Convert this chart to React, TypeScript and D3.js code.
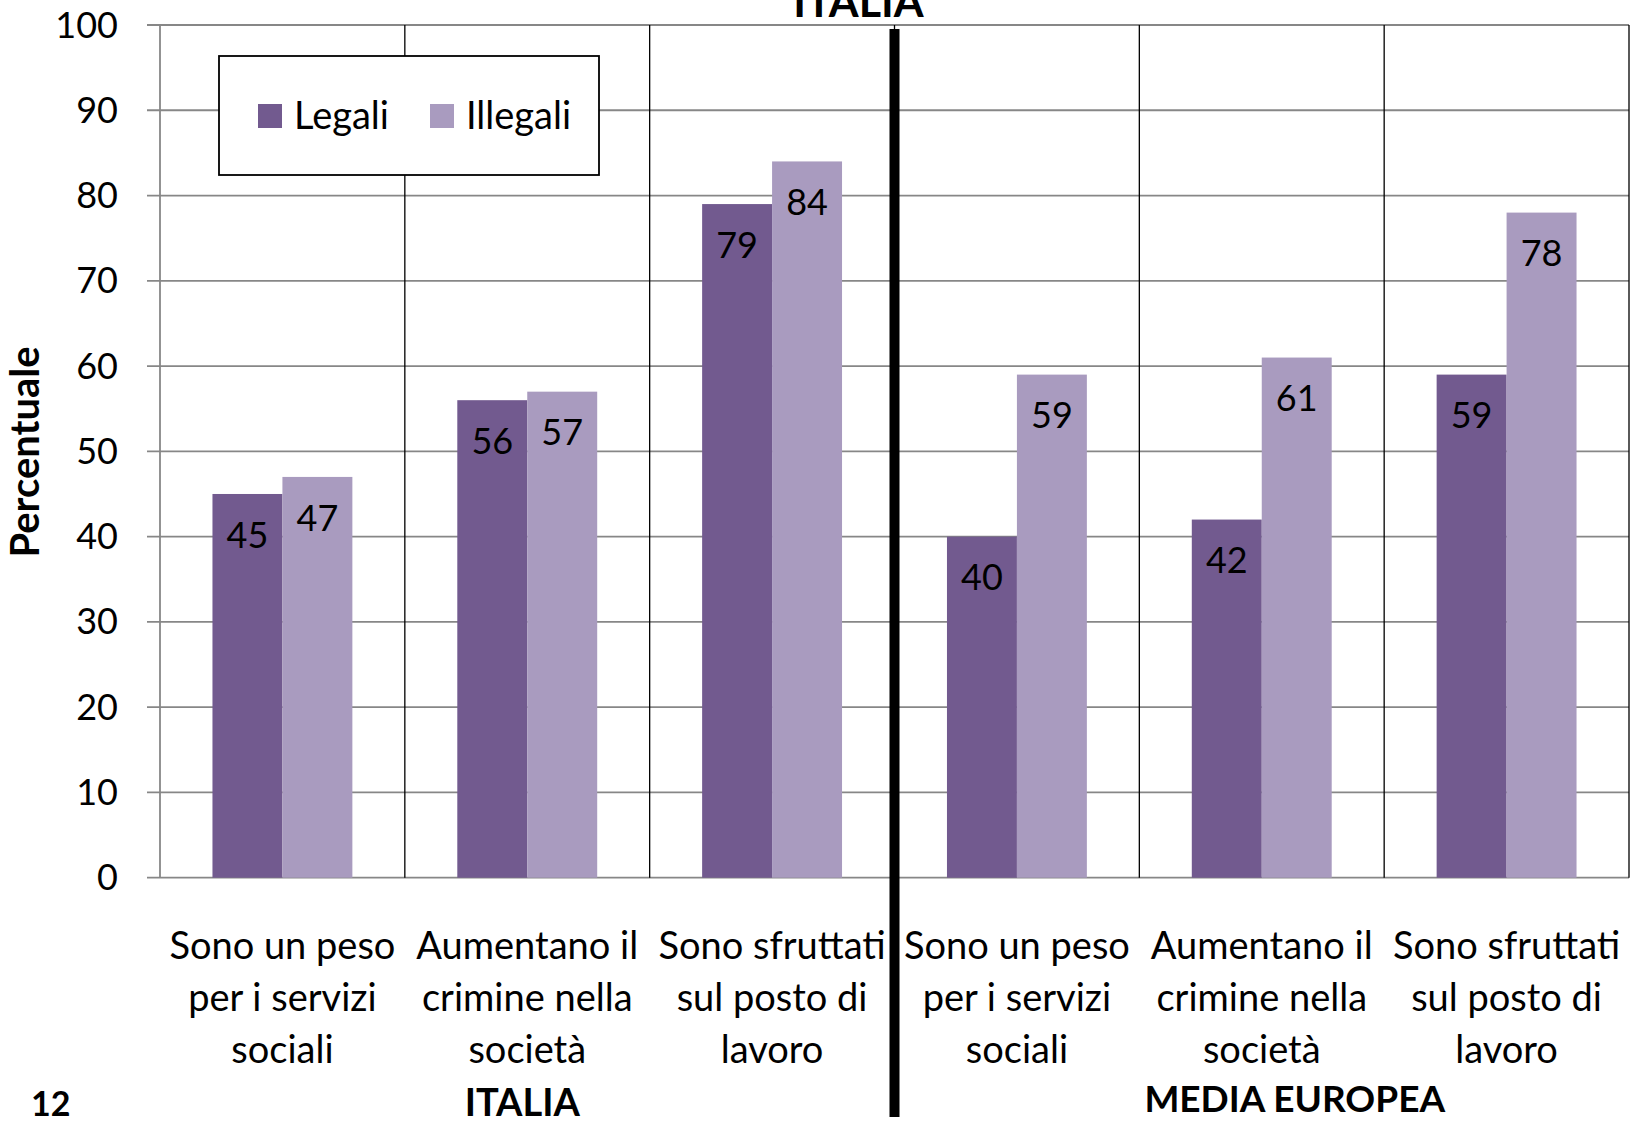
import React from 'react';
import * as d3 from 'd3';

const GROUPS = ['ITALIA', 'MEDIA EUROPEA'];
const CATEGORIES = [
  ['Sono un peso', 'per i servizi', 'sociali'],
  ['Aumentano il', 'crimine nella', 'società'],
  ['Sono sfruttati', 'sul posto di', 'lavoro'],
  ['Sono un peso', 'per i servizi', 'sociali'],
  ['Aumentano il', 'crimine nella', 'società'],
  ['Sono sfruttati', 'sul posto di', 'lavoro'],
];
const SERIES = ['Legali', 'Illegali'];
const LEGALI = [45, 56, 79, 40, 42, 59];
const ILLEGALI = [47, 57, 84, 59, 61, 78];
const Y_TICKS = [0, 10, 20, 30, 40, 50, 60, 70, 80, 90, 100];

const COLORS = ['#725A8F', '#A99BBF'];
const FONT = 'Lato, "Open Sans", sans-serif';

const W = 1635;
const H = 1122;
const left = 160;
const right = 1629;
const top = 25;
const bottom = 877.7;

export default function App() {
  const x0 = d3.scaleBand<number>()
    .domain(d3.range(CATEGORIES.length))
    .range([left, right]);
  const x1 = d3.scaleBand<string>()
    .domain(SERIES)
    .range([0, x0.bandwidth()])
    .paddingOuter(0.75);
  const y = d3.scaleLinear().domain([0, 100]).range([bottom, top]);

  const values = [LEGALI, ILLEGALI];
  const mid = x0(3)!;
  const groupCenter = (g: number) => {
    const a = x0(g * 3)!;
    const b = x0(g * 3 + 2)! + x0.bandwidth();
    return (a + b) / 2;
  };

  return (
    <svg width={W} height={H} style={{ position: 'absolute', left: 0, top: 0, background: '#fff' }} fontFamily={FONT}>
      {/* horizontal gridlines */}
      {Y_TICKS.map(t => (
        <g key={t}>
          <line x1={147} x2={right} y1={y(t)} y2={y(t)} stroke="#878787" strokeWidth={1.8} />
          <text x={118} y={y(t)} dy="0.35em" textAnchor="end" fontSize={36}>{t}</text>
        </g>
      ))}
      {/* y axis */}
      <line x1={left} x2={left} y1={top} y2={bottom} stroke="#878787" strokeWidth={1.8} />
      {/* vertical separators */}
      {d3.range(1, CATEGORIES.length + 1).map(i => {
        const xv = i === CATEGORIES.length ? right : x0(i)!;
        return <line key={i} x1={xv} x2={xv} y1={top} y2={bottom} stroke="#000" strokeWidth={1.3} />;
      })}

      {/* bars */}
      {CATEGORIES.map((_, ci) => (
        <g key={ci} transform={`translate(${x0(ci)},0)`}>
          {SERIES.map((s, si) => {
            const v = values[si][ci];
            const bx = x1(s)!;
            return (
              <g key={s}>
                <rect x={bx} y={y(v)} width={x1.bandwidth()} height={bottom - y(v)} fill={COLORS[si]} />
                <text x={bx + x1.bandwidth() / 2} y={y(v) + 41} dy="0.35em" textAnchor="middle" fontSize={36}>{v}</text>
              </g>
            );
          })}
        </g>
      ))}

      {/* category labels */}
      {CATEGORIES.map((lines, ci) => (
        <text key={ci} x={x0(ci)! + x0.bandwidth() / 2} textAnchor="middle" fontSize={38}>
          {lines.map((l, li) => (
            <tspan key={li} x={x0(ci)! + x0.bandwidth() / 2} y={946 + li * 52} dy="0.35em">{l}</tspan>
          ))}
        </text>
      ))}

      {/* thick divider */}
      <rect x={mid - 5} y={29} width={10} height={1088} fill="#000" />

      {/* group labels */}
      <text x={groupCenter(0) - 5} y={1116} textAnchor="middle" fontSize={38} fontWeight="bold">{GROUPS[0]}</text>
      <text x={groupCenter(1) + 33} y={1112} textAnchor="middle" fontSize={37} fontWeight="bold">{GROUPS[1]}</text>
      <text x={mid - 36} y={17} textAnchor="middle" fontSize={43} fontWeight="bold">{GROUPS[0]}</text>
      <text x={31} y={1116} fontSize={34} fontWeight="bold">12</text>

      {/* y axis title */}
      <text transform={`translate(39,452) rotate(-90)`} textAnchor="middle" fontSize={40} fontWeight="bold">Percentuale</text>

      {/* legend */}
      <rect x={219} y={56} width={380} height={119} fill="#fff" stroke="#000" strokeWidth={1.8} />
      {SERIES.map((s, si) => {
        const lx = si === 0 ? 258 : 430;
        return (
          <g key={s}>
            <rect x={lx} y={104} width={24} height={24} fill={COLORS[si]} />
            <text x={lx + 36} y={116} dy="0.35em" fontSize={38}>{s}</text>
          </g>
        );
      })}
    </svg>
  );
}
